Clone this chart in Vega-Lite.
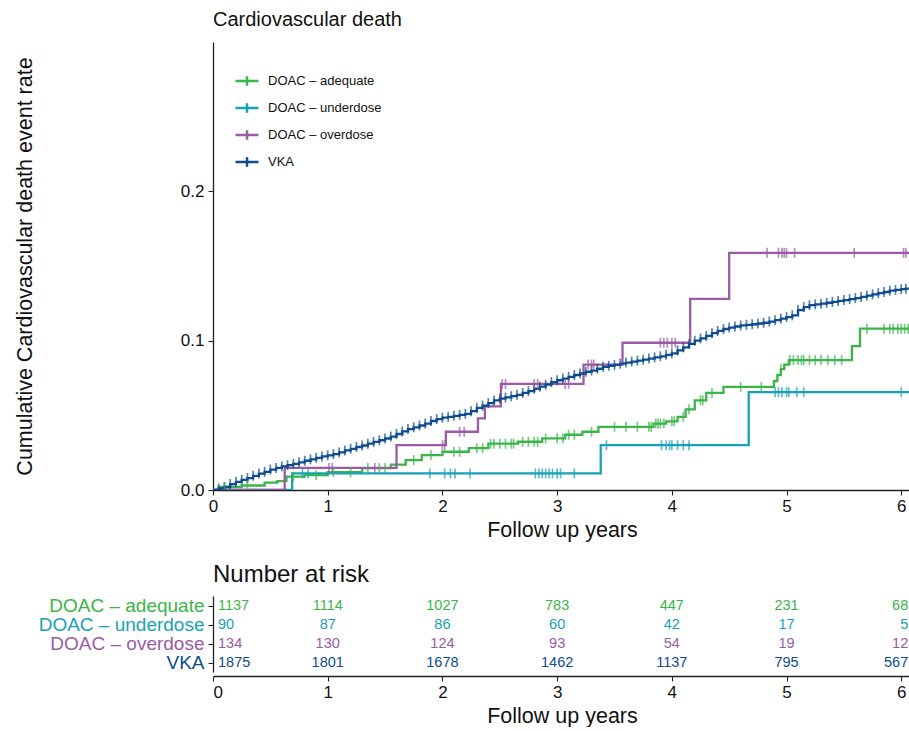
{
  "$schema": "https://vega.github.io/schema/vega-lite/v6.json",
  "padding": {"left": 14, "top": 10, "right": 0, "bottom": 0},
  "background": "white",
  "config": {
    "font": "Liberation Sans",
    "view": {"stroke": null},
    "axis": {"grid": false, "domainColor": "#222", "tickColor": "#222", "labelColor": "#111", "titleColor": "#111", "labelFont": "Liberation Sans", "titleFont": "Liberation Sans", "titleFontWeight": "normal", "domainWidth": 1.3, "tickWidth": 1.1}
  },
  "datasets": {
    "curves": [
      {"group": "DOAC – adequate", "time": 0, "rate": 0},
      {"group": "DOAC – adequate", "time": 0.05, "rate": 0.002},
      {"group": "DOAC – adequate", "time": 0.25, "rate": 0.003},
      {"group": "DOAC – adequate", "time": 0.45, "rate": 0.005},
      {"group": "DOAC – adequate", "time": 0.56, "rate": 0.006},
      {"group": "DOAC – adequate", "time": 0.64, "rate": 0.009},
      {"group": "DOAC – adequate", "time": 0.8, "rate": 0.010},
      {"group": "DOAC – adequate", "time": 1.0, "rate": 0.012},
      {"group": "DOAC – adequate", "time": 1.3, "rate": 0.0147},
      {"group": "DOAC – adequate", "time": 1.55, "rate": 0.017},
      {"group": "DOAC – adequate", "time": 1.68, "rate": 0.020},
      {"group": "DOAC – adequate", "time": 1.82, "rate": 0.0234},
      {"group": "DOAC – adequate", "time": 2.0, "rate": 0.0256},
      {"group": "DOAC – adequate", "time": 2.23, "rate": 0.028},
      {"group": "DOAC – adequate", "time": 2.4, "rate": 0.031},
      {"group": "DOAC – adequate", "time": 2.66, "rate": 0.0323},
      {"group": "DOAC – adequate", "time": 2.87, "rate": 0.0346},
      {"group": "DOAC – adequate", "time": 3.07, "rate": 0.037},
      {"group": "DOAC – adequate", "time": 3.22, "rate": 0.039},
      {"group": "DOAC – adequate", "time": 3.36, "rate": 0.0423},
      {"group": "DOAC – adequate", "time": 3.84, "rate": 0.0445},
      {"group": "DOAC – adequate", "time": 3.95, "rate": 0.046},
      {"group": "DOAC – adequate", "time": 4.05, "rate": 0.049},
      {"group": "DOAC – adequate", "time": 4.12, "rate": 0.054},
      {"group": "DOAC – adequate", "time": 4.2, "rate": 0.060},
      {"group": "DOAC – adequate", "time": 4.3, "rate": 0.065},
      {"group": "DOAC – adequate", "time": 4.45, "rate": 0.069},
      {"group": "DOAC – adequate", "time": 4.89, "rate": 0.073},
      {"group": "DOAC – adequate", "time": 4.92, "rate": 0.077},
      {"group": "DOAC – adequate", "time": 4.95, "rate": 0.081},
      {"group": "DOAC – adequate", "time": 4.98, "rate": 0.084},
      {"group": "DOAC – adequate", "time": 5.02, "rate": 0.087},
      {"group": "DOAC – adequate", "time": 5.57, "rate": 0.0963},
      {"group": "DOAC – adequate", "time": 5.64, "rate": 0.108},
      {"group": "DOAC – adequate", "time": 6.085, "rate": 0.108},
      {"group": "DOAC – underdose", "time": 0, "rate": 0},
      {"group": "DOAC – underdose", "time": 0.69, "rate": 0.0111},
      {"group": "DOAC – underdose", "time": 3.38, "rate": 0.030},
      {"group": "DOAC – underdose", "time": 4.67, "rate": 0.0655},
      {"group": "DOAC – underdose", "time": 6.085, "rate": 0.0655},
      {"group": "DOAC – overdose", "time": 0, "rate": 0},
      {"group": "DOAC – overdose", "time": 0.625, "rate": 0.0148},
      {"group": "DOAC – overdose", "time": 1.6, "rate": 0.030},
      {"group": "DOAC – overdose", "time": 2.03, "rate": 0.039},
      {"group": "DOAC – overdose", "time": 2.31, "rate": 0.048},
      {"group": "DOAC – overdose", "time": 2.37, "rate": 0.056},
      {"group": "DOAC – overdose", "time": 2.51, "rate": 0.071},
      {"group": "DOAC – overdose", "time": 3.23, "rate": 0.084},
      {"group": "DOAC – overdose", "time": 3.57, "rate": 0.0986},
      {"group": "DOAC – overdose", "time": 4.16, "rate": 0.128},
      {"group": "DOAC – overdose", "time": 4.5, "rate": 0.1588},
      {"group": "DOAC – overdose", "time": 6.085, "rate": 0.1588},
      {"group": "VKA", "time": 0, "rate": 0},
      {"group": "VKA", "time": 0.05, "rate": 0.001},
      {"group": "VKA", "time": 0.1, "rate": 0.002},
      {"group": "VKA", "time": 0.15, "rate": 0.004},
      {"group": "VKA", "time": 0.2, "rate": 0.0055},
      {"group": "VKA", "time": 0.25, "rate": 0.0068},
      {"group": "VKA", "time": 0.3, "rate": 0.008},
      {"group": "VKA", "time": 0.35, "rate": 0.0095},
      {"group": "VKA", "time": 0.4, "rate": 0.011},
      {"group": "VKA", "time": 0.45, "rate": 0.0122},
      {"group": "VKA", "time": 0.5, "rate": 0.0137},
      {"group": "VKA", "time": 0.55, "rate": 0.0148},
      {"group": "VKA", "time": 0.6, "rate": 0.0158},
      {"group": "VKA", "time": 0.65, "rate": 0.0166},
      {"group": "VKA", "time": 0.7, "rate": 0.0175},
      {"group": "VKA", "time": 0.75, "rate": 0.0185},
      {"group": "VKA", "time": 0.8, "rate": 0.0196},
      {"group": "VKA", "time": 0.85, "rate": 0.0205},
      {"group": "VKA", "time": 0.9, "rate": 0.0215},
      {"group": "VKA", "time": 0.95, "rate": 0.0225},
      {"group": "VKA", "time": 1.0, "rate": 0.0232},
      {"group": "VKA", "time": 1.05, "rate": 0.024},
      {"group": "VKA", "time": 1.1, "rate": 0.0252},
      {"group": "VKA", "time": 1.15, "rate": 0.0265},
      {"group": "VKA", "time": 1.2, "rate": 0.0276},
      {"group": "VKA", "time": 1.25, "rate": 0.0288},
      {"group": "VKA", "time": 1.3, "rate": 0.0298},
      {"group": "VKA", "time": 1.35, "rate": 0.031},
      {"group": "VKA", "time": 1.4, "rate": 0.0322},
      {"group": "VKA", "time": 1.45, "rate": 0.0333},
      {"group": "VKA", "time": 1.5, "rate": 0.0345},
      {"group": "VKA", "time": 1.55, "rate": 0.0358},
      {"group": "VKA", "time": 1.6, "rate": 0.0375},
      {"group": "VKA", "time": 1.65, "rate": 0.0392},
      {"group": "VKA", "time": 1.7, "rate": 0.0408},
      {"group": "VKA", "time": 1.75, "rate": 0.042},
      {"group": "VKA", "time": 1.8, "rate": 0.0432},
      {"group": "VKA", "time": 1.85, "rate": 0.0445},
      {"group": "VKA", "time": 1.9, "rate": 0.0462},
      {"group": "VKA", "time": 1.95, "rate": 0.0475},
      {"group": "VKA", "time": 2.0, "rate": 0.0484},
      {"group": "VKA", "time": 2.05, "rate": 0.049},
      {"group": "VKA", "time": 2.1, "rate": 0.0497},
      {"group": "VKA", "time": 2.15, "rate": 0.0503},
      {"group": "VKA", "time": 2.2, "rate": 0.051},
      {"group": "VKA", "time": 2.25, "rate": 0.0528},
      {"group": "VKA", "time": 2.3, "rate": 0.055},
      {"group": "VKA", "time": 2.35, "rate": 0.0565},
      {"group": "VKA", "time": 2.4, "rate": 0.0582},
      {"group": "VKA", "time": 2.45, "rate": 0.060},
      {"group": "VKA", "time": 2.5, "rate": 0.0612},
      {"group": "VKA", "time": 2.55, "rate": 0.062},
      {"group": "VKA", "time": 2.6, "rate": 0.0628},
      {"group": "VKA", "time": 2.65, "rate": 0.0637},
      {"group": "VKA", "time": 2.7, "rate": 0.065},
      {"group": "VKA", "time": 2.75, "rate": 0.0662},
      {"group": "VKA", "time": 2.8, "rate": 0.0678},
      {"group": "VKA", "time": 2.85, "rate": 0.0692},
      {"group": "VKA", "time": 2.9, "rate": 0.0705},
      {"group": "VKA", "time": 2.95, "rate": 0.0722},
      {"group": "VKA", "time": 3.0, "rate": 0.0735},
      {"group": "VKA", "time": 3.05, "rate": 0.0746},
      {"group": "VKA", "time": 3.1, "rate": 0.0758},
      {"group": "VKA", "time": 3.15, "rate": 0.077},
      {"group": "VKA", "time": 3.2, "rate": 0.078},
      {"group": "VKA", "time": 3.25, "rate": 0.0792},
      {"group": "VKA", "time": 3.3, "rate": 0.080},
      {"group": "VKA", "time": 3.35, "rate": 0.0812},
      {"group": "VKA", "time": 3.4, "rate": 0.0825},
      {"group": "VKA", "time": 3.45, "rate": 0.0832},
      {"group": "VKA", "time": 3.5, "rate": 0.0838},
      {"group": "VKA", "time": 3.55, "rate": 0.0846},
      {"group": "VKA", "time": 3.6, "rate": 0.0853},
      {"group": "VKA", "time": 3.65, "rate": 0.086},
      {"group": "VKA", "time": 3.7, "rate": 0.0866},
      {"group": "VKA", "time": 3.75, "rate": 0.0873},
      {"group": "VKA", "time": 3.8, "rate": 0.088},
      {"group": "VKA", "time": 3.85, "rate": 0.0888},
      {"group": "VKA", "time": 3.9, "rate": 0.0895},
      {"group": "VKA", "time": 3.95, "rate": 0.0905},
      {"group": "VKA", "time": 4.0, "rate": 0.0915},
      {"group": "VKA", "time": 4.05, "rate": 0.0935},
      {"group": "VKA", "time": 4.1, "rate": 0.0955},
      {"group": "VKA", "time": 4.15, "rate": 0.0978},
      {"group": "VKA", "time": 4.2, "rate": 0.1},
      {"group": "VKA", "time": 4.25, "rate": 0.1015},
      {"group": "VKA", "time": 4.3, "rate": 0.1032},
      {"group": "VKA", "time": 4.35, "rate": 0.105},
      {"group": "VKA", "time": 4.4, "rate": 0.1065},
      {"group": "VKA", "time": 4.45, "rate": 0.1078},
      {"group": "VKA", "time": 4.5, "rate": 0.1088},
      {"group": "VKA", "time": 4.55, "rate": 0.1095},
      {"group": "VKA", "time": 4.6, "rate": 0.1102},
      {"group": "VKA", "time": 4.65, "rate": 0.1106},
      {"group": "VKA", "time": 4.7, "rate": 0.111},
      {"group": "VKA", "time": 4.75, "rate": 0.1115},
      {"group": "VKA", "time": 4.8, "rate": 0.112},
      {"group": "VKA", "time": 4.85, "rate": 0.1128},
      {"group": "VKA", "time": 4.9, "rate": 0.1137},
      {"group": "VKA", "time": 4.95, "rate": 0.1147},
      {"group": "VKA", "time": 5.0, "rate": 0.1158},
      {"group": "VKA", "time": 5.05, "rate": 0.117},
      {"group": "VKA", "time": 5.1, "rate": 0.1205},
      {"group": "VKA", "time": 5.15, "rate": 0.1225},
      {"group": "VKA", "time": 5.2, "rate": 0.1238},
      {"group": "VKA", "time": 5.25, "rate": 0.1243},
      {"group": "VKA", "time": 5.3, "rate": 0.1248},
      {"group": "VKA", "time": 5.35, "rate": 0.1254},
      {"group": "VKA", "time": 5.4, "rate": 0.126},
      {"group": "VKA", "time": 5.45, "rate": 0.1266},
      {"group": "VKA", "time": 5.5, "rate": 0.1272},
      {"group": "VKA", "time": 5.55, "rate": 0.1278},
      {"group": "VKA", "time": 5.6, "rate": 0.1285},
      {"group": "VKA", "time": 5.65, "rate": 0.1293},
      {"group": "VKA", "time": 5.7, "rate": 0.1302},
      {"group": "VKA", "time": 5.75, "rate": 0.131},
      {"group": "VKA", "time": 5.8, "rate": 0.1318},
      {"group": "VKA", "time": 5.85, "rate": 0.1326},
      {"group": "VKA", "time": 5.9, "rate": 0.1335},
      {"group": "VKA", "time": 5.95, "rate": 0.134},
      {"group": "VKA", "time": 6.0, "rate": 0.1345},
      {"group": "VKA", "time": 6.04, "rate": 0.1348},
      {"group": "VKA", "time": 6.085, "rate": 0.135}
    ],
    "censor": [
      {"group": "DOAC – adequate", "time": 0.1, "rate": 0.002},
      {"group": "DOAC – adequate", "time": 0.3, "rate": 0.003},
      {"group": "DOAC – adequate", "time": 0.7, "rate": 0.009},
      {"group": "DOAC – adequate", "time": 0.9, "rate": 0.010},
      {"group": "DOAC – adequate", "time": 1.05, "rate": 0.012},
      {"group": "DOAC – adequate", "time": 1.2, "rate": 0.012},
      {"group": "DOAC – adequate", "time": 1.35, "rate": 0.0147},
      {"group": "DOAC – adequate", "time": 1.45, "rate": 0.0147},
      {"group": "DOAC – adequate", "time": 1.5, "rate": 0.0147},
      {"group": "DOAC – adequate", "time": 1.75, "rate": 0.020},
      {"group": "DOAC – adequate", "time": 1.9, "rate": 0.0234},
      {"group": "DOAC – adequate", "time": 2.1, "rate": 0.0256},
      {"group": "DOAC – adequate", "time": 2.15, "rate": 0.0256},
      {"group": "DOAC – adequate", "time": 2.3, "rate": 0.028},
      {"group": "DOAC – adequate", "time": 2.35, "rate": 0.028},
      {"group": "DOAC – adequate", "time": 2.42, "rate": 0.031},
      {"group": "DOAC – adequate", "time": 2.45, "rate": 0.031},
      {"group": "DOAC – adequate", "time": 2.5, "rate": 0.031},
      {"group": "DOAC – adequate", "time": 2.55, "rate": 0.031},
      {"group": "DOAC – adequate", "time": 2.6, "rate": 0.031},
      {"group": "DOAC – adequate", "time": 2.62, "rate": 0.031},
      {"group": "DOAC – adequate", "time": 2.7, "rate": 0.0323},
      {"group": "DOAC – adequate", "time": 2.75, "rate": 0.0323},
      {"group": "DOAC – adequate", "time": 2.8, "rate": 0.0323},
      {"group": "DOAC – adequate", "time": 2.83, "rate": 0.0323},
      {"group": "DOAC – adequate", "time": 2.9, "rate": 0.0346},
      {"group": "DOAC – adequate", "time": 3.0, "rate": 0.0346},
      {"group": "DOAC – adequate", "time": 3.05, "rate": 0.0346},
      {"group": "DOAC – adequate", "time": 3.1, "rate": 0.037},
      {"group": "DOAC – adequate", "time": 3.15, "rate": 0.037},
      {"group": "DOAC – adequate", "time": 3.3, "rate": 0.039},
      {"group": "DOAC – adequate", "time": 3.5, "rate": 0.0423},
      {"group": "DOAC – adequate", "time": 3.6, "rate": 0.0423},
      {"group": "DOAC – adequate", "time": 3.7, "rate": 0.0423},
      {"group": "DOAC – adequate", "time": 3.8, "rate": 0.0423},
      {"group": "DOAC – adequate", "time": 3.82, "rate": 0.0423},
      {"group": "DOAC – adequate", "time": 3.86, "rate": 0.0445},
      {"group": "DOAC – adequate", "time": 3.88, "rate": 0.0445},
      {"group": "DOAC – adequate", "time": 3.9, "rate": 0.0445},
      {"group": "DOAC – adequate", "time": 3.93, "rate": 0.0445},
      {"group": "DOAC – adequate", "time": 4.0, "rate": 0.046},
      {"group": "DOAC – adequate", "time": 4.02, "rate": 0.046},
      {"group": "DOAC – adequate", "time": 4.1, "rate": 0.049},
      {"group": "DOAC – adequate", "time": 4.15, "rate": 0.054},
      {"group": "DOAC – adequate", "time": 4.25, "rate": 0.060},
      {"group": "DOAC – adequate", "time": 4.27, "rate": 0.060},
      {"group": "DOAC – adequate", "time": 4.35, "rate": 0.065},
      {"group": "DOAC – adequate", "time": 4.6, "rate": 0.069},
      {"group": "DOAC – adequate", "time": 4.78, "rate": 0.069},
      {"group": "DOAC – adequate", "time": 4.95, "rate": 0.081},
      {"group": "DOAC – adequate", "time": 5.03, "rate": 0.087},
      {"group": "DOAC – adequate", "time": 5.06, "rate": 0.087},
      {"group": "DOAC – adequate", "time": 5.1, "rate": 0.087},
      {"group": "DOAC – adequate", "time": 5.13, "rate": 0.087},
      {"group": "DOAC – adequate", "time": 5.15, "rate": 0.087},
      {"group": "DOAC – adequate", "time": 5.2, "rate": 0.087},
      {"group": "DOAC – adequate", "time": 5.25, "rate": 0.087},
      {"group": "DOAC – adequate", "time": 5.3, "rate": 0.087},
      {"group": "DOAC – adequate", "time": 5.36, "rate": 0.087},
      {"group": "DOAC – adequate", "time": 5.42, "rate": 0.087},
      {"group": "DOAC – adequate", "time": 5.48, "rate": 0.087},
      {"group": "DOAC – adequate", "time": 5.7, "rate": 0.108},
      {"group": "DOAC – adequate", "time": 5.85, "rate": 0.108},
      {"group": "DOAC – adequate", "time": 5.9, "rate": 0.108},
      {"group": "DOAC – adequate", "time": 5.93, "rate": 0.108},
      {"group": "DOAC – adequate", "time": 5.97, "rate": 0.108},
      {"group": "DOAC – adequate", "time": 6.0, "rate": 0.108},
      {"group": "DOAC – adequate", "time": 6.03, "rate": 0.108},
      {"group": "DOAC – adequate", "time": 6.06, "rate": 0.108},
      {"group": "DOAC – underdose", "time": 0.78, "rate": 0.0111},
      {"group": "DOAC – underdose", "time": 0.83, "rate": 0.0111},
      {"group": "DOAC – underdose", "time": 1.89, "rate": 0.0111},
      {"group": "DOAC – underdose", "time": 2.02, "rate": 0.0111},
      {"group": "DOAC – underdose", "time": 2.07, "rate": 0.0111},
      {"group": "DOAC – underdose", "time": 2.11, "rate": 0.0111},
      {"group": "DOAC – underdose", "time": 2.24, "rate": 0.0111},
      {"group": "DOAC – underdose", "time": 2.81, "rate": 0.0111},
      {"group": "DOAC – underdose", "time": 2.84, "rate": 0.0111},
      {"group": "DOAC – underdose", "time": 2.87, "rate": 0.0111},
      {"group": "DOAC – underdose", "time": 2.9, "rate": 0.0111},
      {"group": "DOAC – underdose", "time": 2.93, "rate": 0.0111},
      {"group": "DOAC – underdose", "time": 2.96, "rate": 0.0111},
      {"group": "DOAC – underdose", "time": 3.0, "rate": 0.0111},
      {"group": "DOAC – underdose", "time": 3.03, "rate": 0.0111},
      {"group": "DOAC – underdose", "time": 3.15, "rate": 0.0111},
      {"group": "DOAC – underdose", "time": 3.43, "rate": 0.030},
      {"group": "DOAC – underdose", "time": 3.91, "rate": 0.030},
      {"group": "DOAC – underdose", "time": 3.95, "rate": 0.030},
      {"group": "DOAC – underdose", "time": 3.98, "rate": 0.030},
      {"group": "DOAC – underdose", "time": 4.0, "rate": 0.030},
      {"group": "DOAC – underdose", "time": 4.05, "rate": 0.030},
      {"group": "DOAC – underdose", "time": 4.1, "rate": 0.030},
      {"group": "DOAC – underdose", "time": 4.15, "rate": 0.030},
      {"group": "DOAC – underdose", "time": 4.9, "rate": 0.0655},
      {"group": "DOAC – underdose", "time": 4.93, "rate": 0.0655},
      {"group": "DOAC – underdose", "time": 4.96, "rate": 0.0655},
      {"group": "DOAC – underdose", "time": 5.0, "rate": 0.0655},
      {"group": "DOAC – underdose", "time": 5.02, "rate": 0.0655},
      {"group": "DOAC – underdose", "time": 5.09, "rate": 0.0655},
      {"group": "DOAC – underdose", "time": 5.15, "rate": 0.0655},
      {"group": "DOAC – underdose", "time": 6.0, "rate": 0.0655},
      {"group": "DOAC – overdose", "time": 1.01, "rate": 0.0148},
      {"group": "DOAC – overdose", "time": 1.04, "rate": 0.0148},
      {"group": "DOAC – overdose", "time": 1.41, "rate": 0.0148},
      {"group": "DOAC – overdose", "time": 2.0, "rate": 0.030},
      {"group": "DOAC – overdose", "time": 2.02, "rate": 0.030},
      {"group": "DOAC – overdose", "time": 2.15, "rate": 0.039},
      {"group": "DOAC – overdose", "time": 2.19, "rate": 0.039},
      {"group": "DOAC – overdose", "time": 2.52, "rate": 0.071},
      {"group": "DOAC – overdose", "time": 2.55, "rate": 0.071},
      {"group": "DOAC – overdose", "time": 2.8, "rate": 0.071},
      {"group": "DOAC – overdose", "time": 2.83, "rate": 0.071},
      {"group": "DOAC – overdose", "time": 3.07, "rate": 0.071},
      {"group": "DOAC – overdose", "time": 3.1, "rate": 0.071},
      {"group": "DOAC – overdose", "time": 3.27, "rate": 0.084},
      {"group": "DOAC – overdose", "time": 3.3, "rate": 0.084},
      {"group": "DOAC – overdose", "time": 3.32, "rate": 0.084},
      {"group": "DOAC – overdose", "time": 3.9, "rate": 0.0986},
      {"group": "DOAC – overdose", "time": 3.93, "rate": 0.0986},
      {"group": "DOAC – overdose", "time": 3.96, "rate": 0.0986},
      {"group": "DOAC – overdose", "time": 4.0, "rate": 0.0986},
      {"group": "DOAC – overdose", "time": 4.03, "rate": 0.0986},
      {"group": "DOAC – overdose", "time": 4.83, "rate": 0.1588},
      {"group": "DOAC – overdose", "time": 4.93, "rate": 0.1588},
      {"group": "DOAC – overdose", "time": 4.96, "rate": 0.1588},
      {"group": "DOAC – overdose", "time": 4.98, "rate": 0.1588},
      {"group": "DOAC – overdose", "time": 5.0, "rate": 0.1588},
      {"group": "DOAC – overdose", "time": 5.07, "rate": 0.1588},
      {"group": "DOAC – overdose", "time": 5.59, "rate": 0.1588},
      {"group": "DOAC – overdose", "time": 6.02, "rate": 0.1588},
      {"group": "DOAC – overdose", "time": 6.04, "rate": 0.1588}
    ],
    "risk": [
      {"group": "DOAC – adequate", "time": 0, "n": 1137},
      {"group": "DOAC – adequate", "time": 1, "n": 1114},
      {"group": "DOAC – adequate", "time": 2, "n": 1027},
      {"group": "DOAC – adequate", "time": 3, "n": 783},
      {"group": "DOAC – adequate", "time": 4, "n": 447},
      {"group": "DOAC – adequate", "time": 5, "n": 231},
      {"group": "DOAC – adequate", "time": 6, "n": 68},
      {"group": "DOAC – underdose", "time": 0, "n": 90},
      {"group": "DOAC – underdose", "time": 1, "n": 87},
      {"group": "DOAC – underdose", "time": 2, "n": 86},
      {"group": "DOAC – underdose", "time": 3, "n": 60},
      {"group": "DOAC – underdose", "time": 4, "n": 42},
      {"group": "DOAC – underdose", "time": 5, "n": 17},
      {"group": "DOAC – underdose", "time": 6, "n": 5},
      {"group": "DOAC – overdose", "time": 0, "n": 134},
      {"group": "DOAC – overdose", "time": 1, "n": 130},
      {"group": "DOAC – overdose", "time": 2, "n": 124},
      {"group": "DOAC – overdose", "time": 3, "n": 93},
      {"group": "DOAC – overdose", "time": 4, "n": 54},
      {"group": "DOAC – overdose", "time": 5, "n": 19},
      {"group": "DOAC – overdose", "time": 6, "n": 12},
      {"group": "VKA", "time": 0, "n": 1875},
      {"group": "VKA", "time": 1, "n": 1801},
      {"group": "VKA", "time": 2, "n": 1678},
      {"group": "VKA", "time": 3, "n": 1462},
      {"group": "VKA", "time": 4, "n": 1137},
      {"group": "VKA", "time": 5, "n": 795},
      {"group": "VKA", "time": 6, "n": 567}
    ]
  },
  "spacing": 22,
  "resolve": {"scale": {"color": "independent"}, "legend": {"color": "independent"}},
  "vconcat": [
    {
      "width": 698,
      "height": 448,
      "title": {"text": "Cardiovascular death", "anchor": "start", "frame": "group", "fontSize": 20, "fontWeight": "normal", "font": "Liberation Sans", "offset": 12, "color": "#111"},
      "layer": [
        {
          "data": {"name": "curves"},
          "mark": {"type": "line", "interpolate": "step-after", "strokeWidth": 2.3, "clip": true},
          "encoding": {
            "x": {"field": "time", "type": "quantitative", "scale": {"domain": [0, 6.085], "nice": false, "zero": false},
              "axis": {"values": [0, 1, 2, 3, 4, 5, 6], "format": "d", "title": "Follow up years", "labelFontSize": 17, "titleFontSize": 21.5, "tickSize": 5, "labelPadding": 3, "titlePadding": 5, "labelFlush": false}},
            "y": {"field": "rate", "type": "quantitative", "scale": {"domain": [0, 0.3], "nice": false},
              "axis": {"values": [0, 0.1, 0.2], "format": ".1f", "title": "Cumulative Cardiovascular death event rate", "labelFontSize": 17, "titleFontSize": 21.5, "tickSize": 5, "labelPadding": 4, "titlePadding": 144}},
            "color": {"field": "group", "type": "nominal",
              "scale": {"domain": ["DOAC – adequate", "DOAC – underdose", "DOAC – overdose", "VKA"], "range": ["#3bb54a", "#17a2b8", "#9a5ba5", "#0e4c8e"]},
              "legend": {"title": null, "orient": "none", "legendX": 21, "legendY": 26, "padding": 0, "labelFontSize": 13, "labelFont": "Liberation Sans", "labelColor": "#111", "symbolType": "M-1,0H1M0,-0.42V0.42", "symbolSize": 529, "symbolStrokeWidth": 2.5, "symbolFillColor": "transparent", "rowPadding": 4, "labelOffset": 8}}
          }
        },
        {
          "data": {"name": "curves"},
          "transform": [{"filter": "datum.group == 'VKA' && datum.time > 0 && datum.time < 6.08"}],
          "mark": {"type": "tick", "orient": "vertical", "size": 10, "thickness": 1.7, "clip": true},
          "encoding": {
            "x": {"field": "time", "type": "quantitative"},
            "y": {"field": "rate", "type": "quantitative"},
            "color": {"field": "group", "type": "nominal", "legend": null}
          }
        },
        {
          "data": {"name": "censor"},
          "mark": {"type": "tick", "orient": "vertical", "size": 10, "thickness": 1.7, "clip": true},
          "encoding": {
            "x": {"field": "time", "type": "quantitative"},
            "y": {"field": "rate", "type": "quantitative"},
            "color": {"field": "group", "type": "nominal", "legend": null}
          }
        }
      ]
    },
    {
      "width": 698,
      "height": 76,
      "title": {"text": "Number at risk", "anchor": "start", "frame": "group", "fontSize": 24, "fontWeight": "normal", "font": "Liberation Sans", "offset": 9, "color": "#111"},
      "data": {"name": "risk"},
      "mark": {"type": "text", "fontSize": 14.5, "font": "Liberation Sans",
        "align": {"expr": "datum.time == 0 ? 'left' : datum.time == 6 ? 'right' : 'center'"},
        "dx": {"expr": "datum.time == 0 ? 5 : datum.time == 6 ? 7 : 0"}},
      "encoding": {
        "x": {"field": "time", "type": "quantitative", "scale": {"domain": [0, 6.085], "nice": false, "zero": false},
          "axis": {"values": [0, 1, 2, 3, 4, 5, 6], "format": "d", "title": "Follow up years", "labelFontSize": 17, "titleFontSize": 21.5, "tickSize": 5, "labelPadding": 3, "titlePadding": 5, "offset": 4}},
        "y": {"field": "group", "type": "nominal", "sort": ["DOAC – adequate", "DOAC – underdose", "DOAC – overdose", "VKA"],
          "scale": {"paddingInner": 0, "paddingOuter": 0},
          "axis": {"title": null, "labelFontSize": 19, "tickSize": 5, "labelPadding": 4, "domain": true, "ticks": true,
            "labelColor": {"expr": "datum.value == 'VKA' ? '#0e4c8e' : datum.value == 'DOAC – adequate' ? '#3bb54a' : datum.value == 'DOAC – underdose' ? '#17a2b8' : '#9a5ba5'"}}},
        "text": {"field": "n", "type": "quantitative"},
        "color": {"field": "group", "type": "nominal",
          "scale": {"domain": ["DOAC – adequate", "DOAC – underdose", "DOAC – overdose", "VKA"], "range": ["#3bb54a", "#17a2b8", "#9a5ba5", "#0e4c8e"]},
          "legend": null}
      }
    }
  ]
}
